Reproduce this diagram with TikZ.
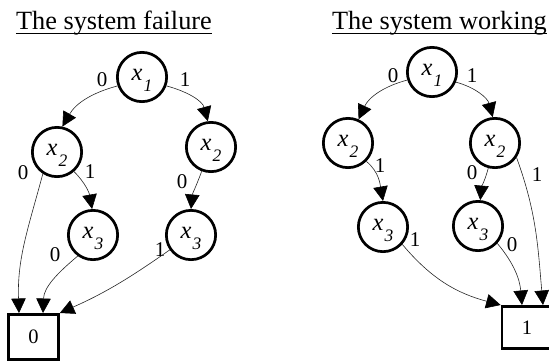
\documentclass[tikz,border=0pt]{standalone}
\usepackage{fontspec}
\setmainfont{Liberation Serif}
\usetikzlibrary{arrows.meta}
\tikzset{
    var/.style={circle, draw, line width=2.7pt, minimum size=49.3pt, inner sep=0pt,
        text height=18pt, text depth=11pt, font=\fontsize{24.5}{26}\selectfont\itshape},
    leaf/.style={rectangle, draw, line width=2.7pt, minimum width=50pt, minimum height=42.3pt,
        inner sep=0pt, font=\fontsize{20.5}{22}\selectfont},
    lbl/.style={inner sep=0pt, font=\fontsize{21}{22}\selectfont},
    ttl/.style={inner sep=0pt, anchor=base, font=\fontsize{26.3}{30}\selectfont},
    link/.style={line width=0.6pt, black!85, -{Triangle[length=14.5pt, width=14.5pt, color=black]}}
}
\newcommand{\xv}[1]{x\kern1pt\raisebox{-11pt}{\fontsize{17.5}{18}\selectfont #1}}
\begin{document}
\begin{tikzpicture}[x=1pt, y=1pt]
                    \useasboundingbox (0,0) rectangle (549,-360);

                    \node[ttl] (tfail) at (114,-29.5) {The system failure};
                    \node[ttl] (twork) at (439.5,-29.5) {The system working};
                    \draw[line width=1.3pt]
                    ([yshift=-4pt]tfail.base west) -- ([yshift=-4pt]tfail.base east)
                    ([yshift=-4pt]twork.base west) -- ([yshift=-4pt]twork.base east);

                    \node[var] (fx1) at (142,-77) {\xv{1}};
                    \node[var] (fx2a) at (57,-152) {\xv{2}};
                    \node[var] (fx2b) at (211,-147) {\xv{2}};
                    \node[var] (fx3a) at (93,-235) {\xv{3}};
                    \node[var] (fx3b) at (191,-235) {\xv{3}};
                    \node[leaf, minimum height=45.3pt] (zero) at (33.5,-337) {0};

                    \node[var] (wx1) at (432,-72) {\xv{1}};
                    \node[var] (wx2a) at (348,-143) {\xv{2}};
                    \node[var] (wx2b) at (495,-143) {\xv{2}};
                    \node[var] (wx3a) at (383,-227) {\xv{3}};
                    \node[var] (wx3b) at (478,-226) {\xv{3}};
                    \node[leaf] (one) at (527,-327.5) {1};

                    \node[lbl] (f0a) at (102,-80) {0};
                    \node[lbl] (f1a) at (185,-80) {1};
                    \node[lbl] (f0b) at (23,-173) {0};
                    \node[lbl] (f1b) at (90,-172) {1};
                    \node[lbl] (f0c) at (182,-182) {0};
                    \node[lbl] (f0d) at (55,-255) {0};
                    \node[lbl] (f1c) at (160,-250) {1};

                    \node[lbl] (w0a) at (393,-76) {0};
                    \node[lbl] (w1a) at (472,-76) {1};
                    \node[lbl] (w1b) at (380,-166) {1};
                    \node[lbl] (w0b) at (472,-173) {0};
                    \node[lbl] (w1c) at (537,-175) {1};
                    \node[lbl] (w1d) at (415,-240) {1};
                    \node[lbl] (w0c) at (512,-245) {0};

                    \draw[link] (fx1.200) to[out=195, in=60] (fx2a.78);
                    \draw[link] (fx1.340) to[out=-15, in=105] (fx2b.97);
                    \draw[link] (fx2a.237) to[out=255, in=92] ([xshift=-14.5pt]zero.north);
                    \draw[link] (fx2a.311) to[out=-45, in=100] (fx3a.92);
                    \draw[link] (fx2b.249) to[out=250, in=85] (fx3b.north);
                    \draw[link] (fx3a.234) to[out=220, in=88] ([xshift=9.5pt]zero.north);
                    \draw[link] (fx3b.215) to[out=215, in=24] (zero.north east);

                    \draw[link] (wx1.198) to[out=195, in=65] (wx2a.66);
                    \draw[link] (wx1.337) to[out=-15, in=105] (wx2b.95);
                    \draw[link] (wx2a.315) to[out=-40, in=100] (wx3a.north);
                    \draw[link] (wx2b.255) to[out=255, in=85] (wx3b.85);
                    \draw[link] (wx2b.326) to[out=-70, in=95] ([xshift=16pt]one.north);
                    \draw[link] (wx3a.318) to[out=-50, in=165] (one.north west);
                    \draw[link] (wx3b.318) to[out=-50, in=95] ([xshift=-5pt]one.north);
\end{tikzpicture}
\end{document}
